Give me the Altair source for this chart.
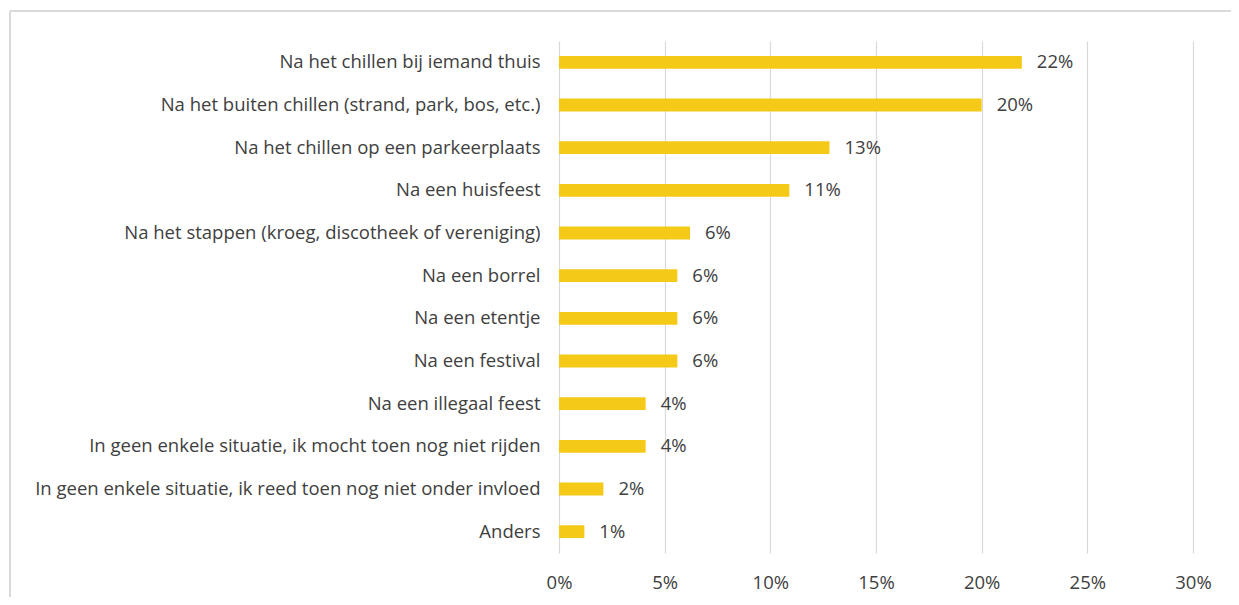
import altair as alt
import pandas as pd

categories = [
    "Na het chillen bij iemand thuis",
    "Na het buiten chillen (strand, park, bos, etc.)",
    "Na het chillen op een parkeerplaats",
    "Na een huisfeest",
    "Na het stappen (kroeg, discotheek of vereniging)",
    "Na een borrel",
    "Na een etentje",
    "Na een festival",
    "Na een illegaal feest",
    "In geen enkele situatie, ik mocht toen nog niet rijden",
    "In geen enkele situatie, ik reed toen nog niet onder invloed",
    "Anders",
]
values = [0.219, 0.200, 0.128, 0.109, 0.062, 0.056, 0.056, 0.056, 0.041, 0.041, 0.021, 0.012]

df = pd.DataFrame({"cat": categories, "val": values})

FONT = "Open Sans"
FS = 18.5
TXT = "#404040"
W, H = 634, 512

y = alt.Y("cat:N", sort=None, title=None,
          scale=alt.Scale(paddingInner=0.7, paddingOuter=0.35),
          axis=alt.Axis(domain=False, ticks=False, labelPadding=19,
                        labelFont=FONT, labelFontSize=FS, labelColor=TXT,
                        labelLimit=600))
x = alt.X("val:Q", title=None,
          scale=alt.Scale(domain=[0, 0.30], nice=False),
          axis=alt.Axis(format=".0%", values=[0, 0.05, 0.10, 0.15, 0.20, 0.25, 0.30],
                        domain=False, ticks=False, grid=True, gridColor="#d9d9d9",
                        gridWidth=1.2, labelPadding=20, labelFlush=False,
                        labelFont=FONT, labelFontSize=FS, labelColor=TXT))

bars = alt.Chart(df).mark_bar(color="#F5C917").encode(x=x, y=y)
labels = alt.Chart(df).mark_text(align="left", baseline="middle", dx=15,
                                 font=FONT, fontSize=FS, color=TXT).encode(
    x="val:Q", y=alt.Y("cat:N", sort=None), text=alt.Text("val:Q", format=".0%"))

frame_top = alt.Chart(df).mark_rule(stroke="#d9d9d9", strokeWidth=1.2).encode(
    x=alt.value(-549), x2=alt.value(700), y=alt.value(-30))
frame_left = alt.Chart(df).mark_rule(stroke="#d9d9d9", strokeWidth=1.2).encode(
    x=alt.value(-549), y=alt.value(-30), y2=alt.value(600))

chart = alt.layer(frame_top, frame_left, bars, labels).properties(
    width=W, height=H,
    autosize=alt.AutoSizeParams(type="none"),
    padding={"left": 551, "top": 33, "right": 38, "bottom": 44},
).configure_view(stroke=None)

chart.save("out.html", embed_options={"renderer": "svg", "actions": False})
